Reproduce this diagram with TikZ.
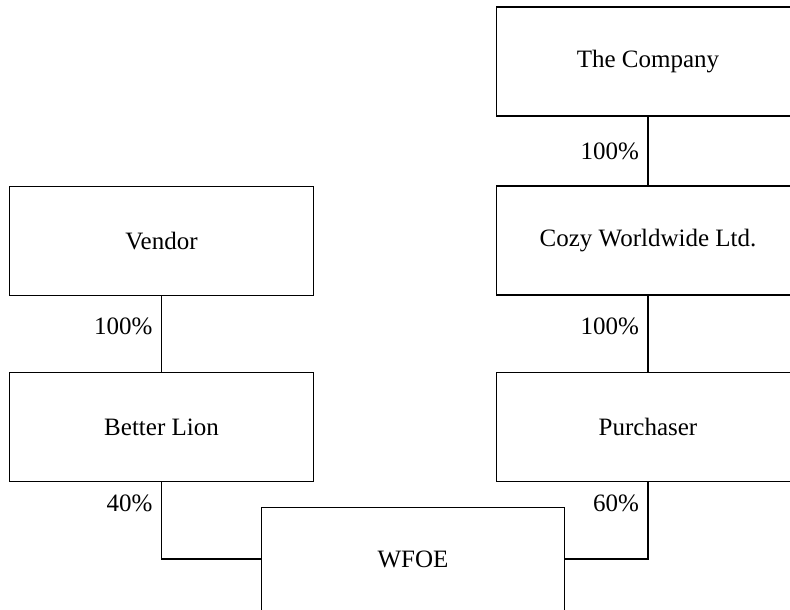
\documentclass[tikz,border=0pt]{standalone}
\usepackage{fontspec}
\setmainfont{Liberation Serif}
\usetikzlibrary{arrows}

\begin{document}
\begin{tikzpicture}[-,x=0.4pt,y=-0.4pt,line width=0.5pt,
  main node/.style={rectangle,draw,inner sep=0pt,minimum width=121.4pt,
    minimum height=43.6pt,font=\fontsize{10}{12}\selectfont}]
  \useasboundingbox (0,0) rectangle (790,609);

  \node[main node] (1) at (648,61.5) {The Company};
  \node[main node] (2) at (648,240.5) {Cozy Worldwide Ltd.};
  \node[main node] (3) at (161.5,241) {Vendor};
  \node[main node] (4) at (161.5,427) {Better Lion};
  \node[main node] (5) at (648,427) {Purchaser};
  \node[main node,minimum height=41pt] (6) at (413,559) {WFOE};

  \path[every node/.style={font=\fontsize{10}{12}\selectfont}]
    (1) edge node [left] {100\%} (2)
    (2) edge node [pos=0.4,left] {100\%} (5)
    (3) edge node [pos=0.4,left] {100\%} (4);
  \draw (4) |- node [pos=0.14,left,font=\fontsize{10}{12}\selectfont] {40\%} (6);
  \draw (5) |- node [pos=0.14,left,font=\fontsize{10}{12}\selectfont] {60\%} (6);
\end{tikzpicture}
\end{document}
